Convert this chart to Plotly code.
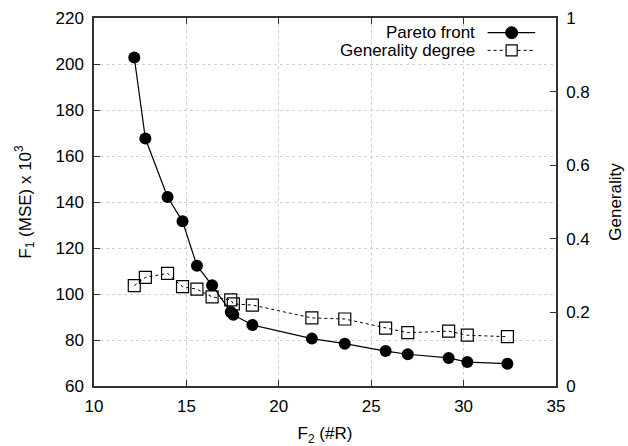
import plotly.graph_objects as go

# Data
f2_rules = [12.18, 12.78, 13.98, 14.79, 15.57, 16.39, 17.40, 17.54, 18.57, 21.79, 23.57, 25.78, 26.98, 29.19, 30.20, 32.37]
f1_mse = [202.8, 167.6, 142.2, 131.6, 112.3, 103.8, 92.2, 91.0, 86.5, 80.6, 78.4, 75.2, 73.8, 72.2, 70.4, 69.7]
generality = [0.273, 0.295, 0.306, 0.270, 0.263, 0.242, 0.234, 0.223, 0.220, 0.185, 0.182, 0.157, 0.145, 0.149, 0.138, 0.134]

x_ticks = [10, 15, 20, 25, 30, 35]
y_ticks = [60, 80, 100, 120, 140, 160, 180, 200, 220]
y2_ticks = [0, 0.2, 0.4, 0.6, 0.8, 1]
y2_labels = ["0", "0.2", "0.4", "0.6", "0.8", "1"]

FONT = "Liberation Sans, Arial, sans-serif"
FS = 17
AX = "#333333"

fig = go.Figure()
fig.add_trace(go.Scatter(
    x=f2_rules, y=f1_mse, mode="lines+markers", name="Pareto front",
    line=dict(color="black", width=1.2),
    marker=dict(symbol="circle", size=12, color="black"),
    showlegend=False,
))
fig.add_trace(go.Scatter(
    x=f2_rules, y=generality, mode="lines+markers", name="Generality degree",
    yaxis="y2",
    line=dict(color="black", width=1, dash="3px,3px"),
    marker=dict(symbol="square-open", size=12, color="black", line=dict(width=1.2)),
    showlegend=False,
))

# Manual legend (text on the left, sample on the right, gnuplot style)
ly1, ly2 = 0.960, 0.912
fig.add_annotation(xref="paper", yref="paper", x=0.829, y=ly1, xanchor="right", yanchor="middle",
                   text="Pareto front", showarrow=False, font=dict(family=FONT, size=FS, color="black"))
fig.add_annotation(xref="paper", yref="paper", x=0.829, y=ly2, xanchor="right", yanchor="middle",
                   text="Generality degree", showarrow=False, font=dict(family=FONT, size=FS, color="black"))
fig.add_shape(type="line", xref="paper", yref="paper", x0=0.852, x1=0.955, y0=ly1, y1=ly1,
              line=dict(color="black", width=1.2))
fig.add_shape(type="circle", xref="paper", yref="paper", x0=0.904 - 0.013, x1=0.904 + 0.013,
              y0=ly1 - 0.0163, y1=ly1 + 0.0163, line=dict(color="black", width=1), fillcolor="black")
fig.add_shape(type="line", xref="paper", yref="paper", x0=0.852, x1=0.955, y0=ly2, y1=ly2,
              line=dict(color="black", width=1, dash="3px,3px"))
fig.add_shape(type="rect", xref="paper", yref="paper", x0=0.904 - 0.012, x1=0.904 + 0.012,
              y0=ly2 - 0.015, y1=ly2 + 0.015, line=dict(color="black", width=1.2), fillcolor="white")

fig.update_layout(
    width=628, height=446,
    margin=dict(l=93.5, r=71.5, t=17.7, b=60, autoexpand=False),
    paper_bgcolor="white", plot_bgcolor="white",
    font=dict(family=FONT, size=FS, color="black"),
    showlegend=False,
    xaxis=dict(
        range=[10, 35], tickvals=x_ticks, ticks="inside", ticklen=6, tickcolor=AX,
        showline=True, linecolor=AX, linewidth=1.5, mirror="ticks",
        showgrid=True, gridcolor="#d0d0d0", griddash="dot", gridwidth=1,
        zeroline=False, automargin=False, ticklabelstandoff=4,
        title=dict(text="F<sub>2</sub> (#R)", font=dict(size=FS), standoff=15),
    ),
    yaxis=dict(
        range=[60, 220], tickvals=y_ticks, ticks="inside", ticklen=6, tickcolor=AX,
        showline=True, linecolor=AX, linewidth=1.5,
        showgrid=True, gridcolor="#d0d0d0", griddash="dot", gridwidth=1,
        zeroline=False, automargin=False, ticklabelstandoff=5,
        title=dict(text="F<sub>1</sub> (MSE) x 10<sup>3</sup>", font=dict(size=FS), standoff=20),
    ),
    yaxis2=dict(
        range=[0, 1], tickvals=y2_ticks, ticktext=y2_labels, overlaying="y", side="right",
        ticks="inside", ticklen=6, tickcolor=AX,
        showline=True, linecolor=AX, linewidth=1.5,
        showgrid=False, zeroline=False, automargin=False, ticklabelstandoff=5,
        title=dict(text="Generality", font=dict(size=FS), standoff=20),
    ),
)

fig.write_html("out.html", config={"displayModeBar": False},
               post_script="document.body.style.margin='0';")
